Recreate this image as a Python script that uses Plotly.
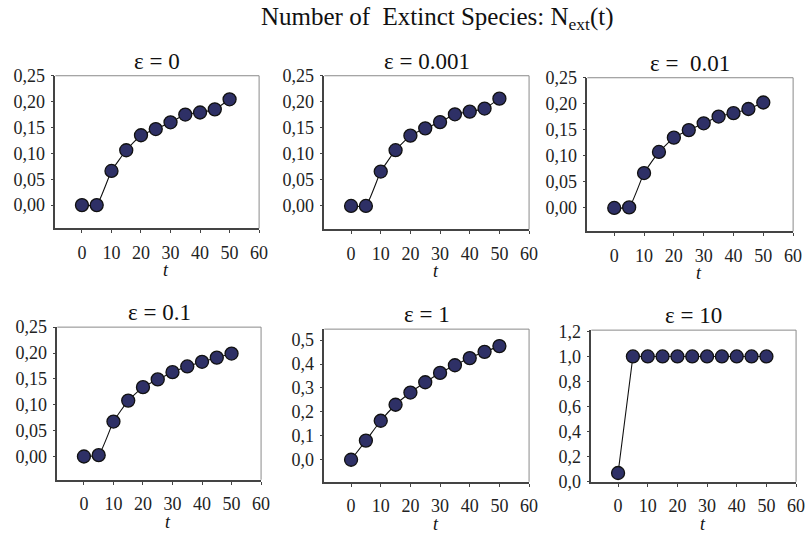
import plotly.graph_objects as go

t = [0, 5, 10, 15, 20, 25, 30, 35, 40, 45, 50]

n_eps_0 = [0.0, 0.0, 0.066, 0.106, 0.135, 0.147, 0.160, 0.175, 0.179, 0.185, 0.2045]
n_eps_0001 = [0.0, 0.0, 0.066, 0.107, 0.135, 0.149, 0.161, 0.176, 0.181, 0.187, 0.206]
n_eps_001 = [0.0, 0.001, 0.067, 0.1075, 0.135, 0.1495, 0.1625, 0.1755, 0.182, 0.190, 0.2025]
n_eps_01 = [0.0, 0.0026, 0.0675, 0.108, 0.134, 0.149, 0.163, 0.174, 0.183, 0.191, 0.199]
n_eps_1 = [0.0, 0.080, 0.163, 0.230, 0.281, 0.324, 0.363, 0.395, 0.425, 0.451, 0.475]
n_eps_10 = [0.07, 1.0, 1.0, 1.0, 1.0, 1.0, 1.0, 1.0, 1.0, 1.0, 1.0]

titles = ["ε = 0", "ε = 0.001", "ε =  0.01", "ε = 0.1", "ε = 1", "ε = 10"]
series = [n_eps_0, n_eps_0001, n_eps_001, n_eps_01, n_eps_1, n_eps_10]

x_ticks = [0, 10, 20, 30, 40, 50, 60]
y_ticks_small = [0.0, 0.05, 0.10, 0.15, 0.20, 0.25]
y_labels_small = ["0,00", "0,05", "0,10", "0,15", "0,20", "0,25"]
y_ticks_mid = [0.0, 0.1, 0.2, 0.3, 0.4, 0.5]
y_labels_mid = ["0,0", "0,1", "0,2", "0,3", "0,4", "0,5"]
y_ticks_big = [0.0, 0.2, 0.4, 0.6, 0.8, 1.0, 1.2]
y_labels_big = ["0,0", "0,2", "0,4", "0,6", "0,8", "1,0", "1,2"]

main_title = "Number of  Extinct Species: N<sub>ext</sub>(t)"

W, H = 812, 536
SY = 0.965  # vertical layout spread


def vy(p):
    return 260 + (p - 260) / SY


# boxes: left, right, top, bottom (pixels)
boxes = [
    (56, 262, 75, 228),
    (328, 535, 75, 229),
    (594, 802, 77, 231),
    (58, 264, 327, 480),
    (328, 535, 329, 482),
    (598, 805, 330, 482),
]
yranges = [[-0.045, 0.25]] * 4 + [[-0.092, 0.546], [0, 1.21]]
yticks = [(y_ticks_small, y_labels_small)] * 4 + [(y_ticks_mid, y_labels_mid), (y_ticks_big, y_labels_big)]
line_shapes = ["spline"] * 5 + ["linear"]

SERIF = "Liberation Serif"
fig = go.Figure()
layout = dict(
    width=W, height=H, margin=dict(l=0, r=0, t=0, b=0), autosize=False,
    paper_bgcolor="white", plot_bgcolor="white", showlegend=False,
    font=dict(family=SERIF, size=17, color="#222"),
)
annotations = []
shapes = []
for i, (ys, title, box, yr, (tv, tt), ls) in enumerate(
        zip(series, titles, boxes, yranges, yticks, line_shapes)):
    k = "" if i == 0 else str(i + 1)
    l, r, tp, b = box
    tp, b = vy(tp), vy(b)
    line = dict(color="#111", width=1.1, shape=ls)
    if ls == "spline":
        line["smoothing"] = 0.4
    fig.add_trace(go.Scatter(
        x=t, y=ys, mode="lines+markers", xaxis="x" + k, yaxis="y" + k,
        line=line,
        marker=dict(size=13, color="#2e3066", line=dict(color="#111", width=1.3)),
        cliponaxis=False,
    ))
    layout["xaxis" + k] = dict(
        domain=[l / W, r / W], anchor="y" + k, range=[-9, 60],
        tickvals=x_ticks, ticks="outside", ticklen=3, tickcolor="#444",
        ticklabelstandoff=4, showgrid=False, zeroline=False,
        showline=True, linecolor="#444", linewidth=1.5,
        tickfont=dict(family=SERIF, size=18, color="#222"),
    )
    layout["yaxis" + k] = dict(
        domain=[1 - b / H, 1 - tp / H], anchor="x" + k, range=yr,
        tickvals=tv, ticktext=tt, ticks="outside", ticklen=3, tickcolor="#444",
        ticklabelstandoff=2, showgrid=False, zeroline=False,
        showline=True, linecolor="#444", linewidth=1.5,
        tickfont=dict(family=SERIF, size=18, color="#222"),
    )
    xd = "x" + k + " domain"
    yd = "y" + k + " domain"
    shapes.append(dict(type="line", xref=xd, yref=yd, x0=0, x1=1, y0=1, y1=1,
                       line=dict(color="#8a8a8a", width=1)))
    shapes.append(dict(type="line", xref=xd, yref=yd, x0=1, x1=1, y0=0, y1=1,
                       line=dict(color="#8a8a8a", width=1)))
    annotations.append(dict(text=title, xref=xd, yref=yd, x=0.5, y=1, yshift=0,
                            xanchor="center", yanchor="bottom", showarrow=False,
                            font=dict(family=SERIF, size=23, color="#111")))
    annotations.append(dict(text="<i>t</i>", xref=xd, yref=yd, x=0.543, y=0, yshift=-42,
                            xanchor="center", yanchor="middle", showarrow=False,
                            borderpad=0,
                            font=dict(family=SERIF, size=18, color="#111")))

annotations.append(dict(text=main_title, xref="paper", yref="paper", x=442 / W,
                        y=1 - vy(18) / H,
                        xanchor="center", yanchor="middle", showarrow=False,
                        font=dict(family=SERIF, size=25, color="#111")))
layout["annotations"] = annotations
layout["shapes"] = shapes
fig.update_layout(**layout)
fig.write_html(
    "out.html",
    config={"displayModeBar": False},
    post_script="document.documentElement.style.margin='0';"
                "document.body.style.margin='0';document.body.style.overflow='hidden';",
)
